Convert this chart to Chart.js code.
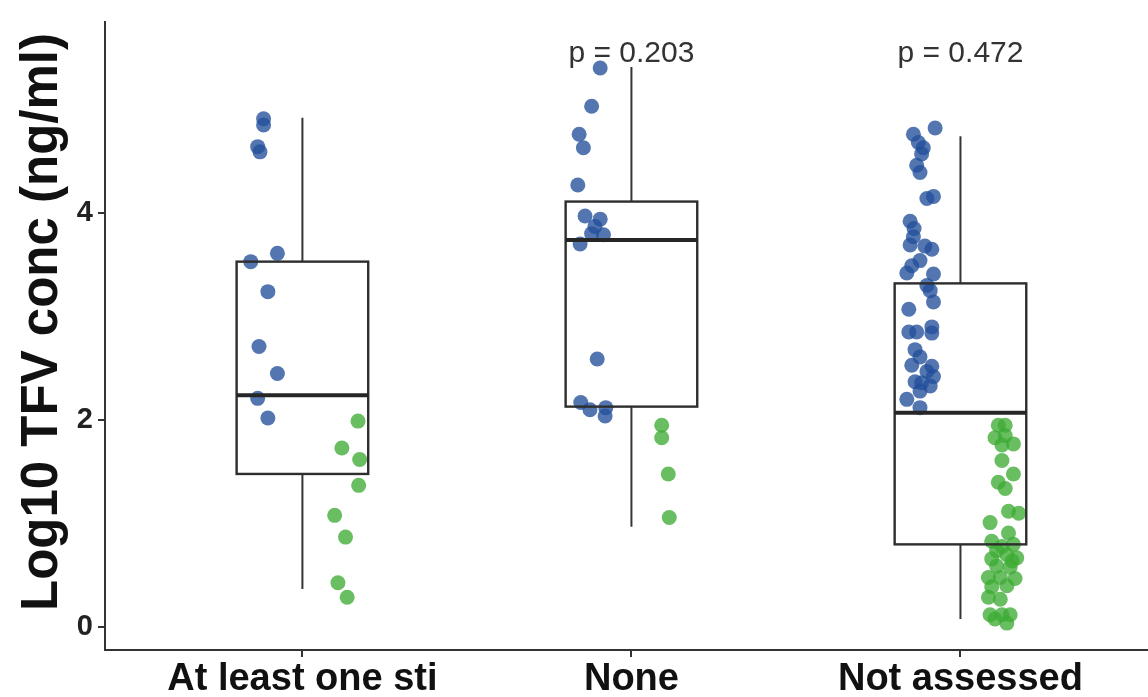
<!DOCTYPE html>
<html>
<head>
<meta charset="utf-8">
<script src="https://cdn.jsdelivr.net/npm/chart.js@4/dist/chart.umd.min.js"></script>
<style>
  html, body { margin: 0; padding: 0; background: #ffffff; }
  #wrap { width: 1148px; height: 697px; position: relative; }
  canvas { display: block; }
</style>
</head>
<body>
<div id="wrap"><canvas id="chart" width="1148" height="697"></canvas></div>
<script>
// Groups on the x axis
const categories = ["At least one sti", "None", "Not assessed"];
const yTicks = [0, 2, 4];
const yTitle = "Log10 TFV conc (ng/ml)";
const pLabels = ["", "p = 0.203", "p = 0.472"];

// Box statistics per group (log10 TFV)
const whiskerLow  = [0.37, 0.97, 0.08];
const q1          = [1.48, 2.13, 0.80];
const medians     = [2.24, 3.74, 2.07];
const q3          = [3.53, 4.11, 3.32];
const whiskerHigh = [4.92, 5.41, 4.74];

// Observations above the threshold (blue), per group
const blueValues = [
  [4.91, 4.85, 4.64, 4.59, 3.53, 3.61, 3.24, 2.71, 2.45, 2.21, 2.02],
  [5.40, 5.03, 4.76, 4.63, 4.27, 3.97, 3.94, 3.87, 3.80, 3.79, 3.70, 2.59, 2.17, 2.10, 2.12, 2.04],
  [4.82, 4.76, 4.68, 4.63, 4.57, 4.46, 4.39, 4.14, 4.16, 3.92, 3.85, 3.77, 3.69, 3.68, 3.65,
   3.54, 3.49, 3.42, 3.41, 3.30, 3.25, 3.14, 3.07, 2.85, 2.85, 2.90, 2.84, 2.68, 2.61, 2.53,
   2.52, 2.47, 2.42, 2.37, 2.36, 2.33, 2.28, 2.20, 2.12]
];
// Horizontal jitter of those observations (category units)
const blueJitter = [
  [-0.118, -0.118, -0.136, -0.129, -0.157, -0.076, -0.105, -0.132, -0.076, -0.136, -0.105],
  [-0.095, -0.121, -0.159, -0.146, -0.163, -0.141, -0.095, -0.111, -0.121, -0.085, -0.156, -0.104, -0.154, -0.126, -0.078, -0.080],
  [-0.077, -0.143, -0.128, -0.113, -0.118, -0.133, -0.123, -0.102, -0.082, -0.153, -0.141, -0.143, -0.153, -0.108, -0.087,
   -0.123, -0.148, -0.163, -0.082, -0.102, -0.092, -0.082, -0.157, -0.157, -0.133, -0.087, -0.087, -0.138, -0.123, -0.148,
   -0.087, -0.102, -0.082, -0.138, -0.118, -0.092, -0.123, -0.163, -0.123]
];

// Observations below the threshold (green), per group
const greenValues = [
  [1.99, 1.73, 1.62, 1.37, 1.08, 0.87, 0.43, 0.29],
  [1.95, 1.83, 1.48, 1.06],
  [1.95, 1.95, 1.83, 1.85, 1.77, 1.76, 1.61, 1.40, 1.48, 1.34, 1.12, 1.10, 1.01, 0.91, 0.83,
   0.80, 0.74, 0.70, 0.66, 0.67, 0.59, 0.58, 0.48, 0.48, 0.47, 0.39, 0.40, 0.29, 0.27, 0.12,
   0.12, 0.12, 0.04, 0.08, 0.78, 0.64]
];
const greenJitter = [
  [0.169, 0.120, 0.174, 0.171, 0.098, 0.131, 0.108, 0.136],
  [0.092, 0.092, 0.112, 0.115],
  [0.115, 0.136, 0.105, 0.136, 0.161, 0.126, 0.126, 0.115, 0.161, 0.136, 0.146, 0.177, 0.090, 0.146, 0.095,
   0.161, 0.110, 0.141, 0.095, 0.171, 0.110, 0.151, 0.085, 0.121, 0.166, 0.095, 0.141, 0.085, 0.121, 0.090,
   0.126, 0.151, 0.141, 0.105, 0.126, 0.157]
];

function toPoints(values, jitter) {
  const pts = [];
  values.forEach((grp, g) => {
    grp.forEach((v, i) => pts.push({ x: g + 1 + jitter[g][i], y: v }));
  });
  return pts;
}

// Box-and-whisker outlines drawn over the jittered points, plus annotations
const boxPlugin = {
  id: 'boxes',
  afterDatasetsDraw(chart) {
    const { ctx, scales: { x, y } } = chart;
    const half = 0.2;
    ctx.save();
    categories.forEach((c, i) => {
      const cx = x.getPixelForValue(i + 1);
      const xl = x.getPixelForValue(i + 1 - half);
      const xr = x.getPixelForValue(i + 1 + half);
      const yq1 = y.getPixelForValue(q1[i]);
      const yq3 = y.getPixelForValue(q3[i]);
      const ymed = y.getPixelForValue(medians[i]);
      const ylo = y.getPixelForValue(whiskerLow[i]);
      const yhi = y.getPixelForValue(whiskerHigh[i]);
      ctx.strokeStyle = '#353535';
      ctx.lineWidth = 2;
      ctx.beginPath();
      ctx.moveTo(cx, yq3); ctx.lineTo(cx, yhi);
      ctx.moveTo(cx, yq1); ctx.lineTo(cx, ylo);
      ctx.stroke();
      ctx.lineWidth = 2.4;
      ctx.strokeStyle = '#2e2e2e';
      ctx.strokeRect(xl, yq3, xr - xl, yq1 - yq3);
      ctx.lineWidth = 4;
      ctx.strokeStyle = '#262626';
      ctx.beginPath();
      ctx.moveTo(xl, ymed); ctx.lineTo(xr, ymed);
      ctx.stroke();
    });
    // p-value annotations
    ctx.fillStyle = '#333333';
    ctx.font = '30px "Liberation Sans", Arial, sans-serif';
    ctx.textAlign = 'center';
    ctx.textBaseline = 'middle';
    pLabels.forEach((t, i) => {
      if (!t) return;
      ctx.fillText(t, x.getPixelForValue(i + 1), 54);
    });
    ctx.restore();
  },
  afterDraw(chart) {
    // rotated y-axis title
    const { ctx } = chart;
    ctx.save();
    ctx.translate(43, 322);
    ctx.rotate(-Math.PI / 2);
    ctx.fillStyle = '#111111';
    ctx.font = 'bold 51px "Liberation Sans", Arial, sans-serif';
    ctx.textAlign = 'center';
    ctx.textBaseline = 'middle';
    ctx.fillText(yTitle, 0, 0);
    ctx.restore();
  }
};

new Chart(document.getElementById('chart'), {
  type: 'scatter',
  data: {
    datasets: [
      {
        label: 'above',
        data: toPoints(blueValues, blueJitter),
        backgroundColor: 'rgba(35, 80, 155, 0.78)',
        borderWidth: 0,
        pointRadius: 7.5,
        pointHoverRadius: 7.5
      },
      {
        label: 'below',
        data: toPoints(greenValues, greenJitter),
        backgroundColor: 'rgba(62, 172, 52, 0.78)',
        borderWidth: 0,
        pointRadius: 7.5,
        pointHoverRadius: 7.5
      }
    ]
  },
  options: {
    responsive: false,
    animation: false,
    devicePixelRatio: 1,
    layout: { autoPadding: false, padding: { top: 15, right: 0, left: 0, bottom: 0 } },
    plugins: { legend: { display: false }, tooltip: { enabled: false } },
    scales: {
      x: {
        type: 'linear',
        position: 'bottom',
        min: 0.4,
        max: 3.57,
        afterBuildTicks: (s) => { s.ticks = categories.map((c, i) => ({ value: i + 1 })); },
        afterFit: (s) => { s.height = 47; },
        grid: { drawOnChartArea: false, drawTicks: true, tickLength: 7, color: '#333333', lineWidth: 2 },
        border: { display: true, color: '#333333', width: 2 },
        ticks: {
          autoSkip: false,
          maxRotation: 0,
          padding: 0,
          color: '#111111',
          font: { family: '"Liberation Sans", Arial, sans-serif', size: 38, weight: 'bold' },
          callback: (v) => categories[Math.round(v) - 1] || ''
        }
      },
      y: {
        type: 'linear',
        min: -0.22,
        max: 5.84,
        afterBuildTicks: (s) => { s.ticks = yTicks.map(v => ({ value: v })); },
        afterFit: (s) => { s.width = 105; },
        grid: { drawOnChartArea: false, drawTicks: true, tickLength: 7, color: '#333333', lineWidth: 2 },
        border: { display: true, color: '#333333', width: 2 },
        ticks: {
          padding: 5,
          color: '#222222',
          font: { family: '"Liberation Sans", Arial, sans-serif', size: 29, weight: 'bold' },
          callback: (v) => String(v)
        },
        title: { display: false }
      }
    }
  },
  plugins: [boxPlugin]
});
</script>
</body>
</html>
